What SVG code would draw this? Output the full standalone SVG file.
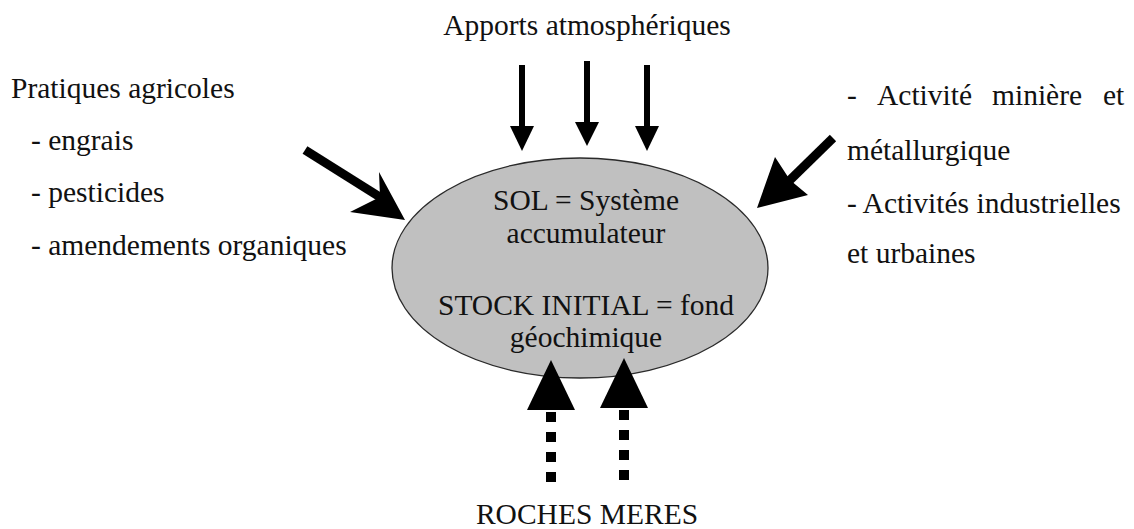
<svg xmlns="http://www.w3.org/2000/svg" width="1134" height="529" viewBox="0 0 1134 529">
<style>
  text { font-family: "Liberation Serif", Tinos, "DejaVu Serif", "Noto Serif", "Times New Roman", Times, serif; font-size: 29.5px; fill: #111; }
  .mid { text-anchor: middle; }
  .shaft { stroke: #000; stroke-width: 6; fill: none; }
  .thick { stroke: #000; stroke-width: 9; fill: none; }
  .dots { stroke: #000; stroke-width: 10; stroke-dasharray: 10 10; fill: none; }
  .head { fill: #000; stroke: none; }
</style>
<rect width="1134" height="529" fill="#fff"/>

<g id="sol">
  <ellipse cx="580" cy="268" rx="188" ry="110" fill="#c0c0c0" stroke="#2a2a2a" stroke-width="1.3"/>
  <text class="mid" x="586" y="210">SOL = Système</text>
  <text class="mid" x="586" y="243">accumulateur</text>
  <text class="mid" x="586" y="315">STOCK INITIAL = fond</text>
  <text class="mid" x="586" y="347">géochimique</text>
</g>

<g id="apports">
  <text class="mid" x="587" y="35">Apports atmosphériques</text>
</g>

<g id="pratiques">
  <text x="11" y="98">Pratiques agricoles</text>
  <text x="31" y="150">- engrais</text>
  <text x="31" y="202">- pesticides</text>
  <text x="31" y="255">- amendements organiques</text>
</g>

<g id="activites">
  <text y="105"><tspan x="847">-</tspan><tspan x="877">Activité</tspan><tspan x="992">minière</tspan><tspan x="1103">et</tspan></text>
  <text x="847" y="160">métallurgique</text>
  <text x="847" y="213">- Activités industrielles</text>
  <text x="847" y="263">et urbaines</text>
</g>

<g id="roches">
  <text class="mid" x="587" y="524">ROCHES MERES</text>
</g>

<g id="connectors">
  <!-- atmospheric arrows -->
  <line class="shaft" x1="522" y1="65" x2="522" y2="128"/>
  <polygon class="head" points="510,126 534,126 522,151"/>
  <line class="shaft" x1="587" y1="61" x2="587" y2="124"/>
  <polygon class="head" points="575,122 599,122 587,146"/>
  <line class="shaft" x1="647" y1="65" x2="647" y2="128"/>
  <polygon class="head" points="635,126 659,126 647,151"/>

  <!-- agricultural arrow -->
  <line class="thick" x1="305" y1="150" x2="383" y2="199"/>
  <polygon class="head" points="405,220 379,172 380,197 350,212"/>

  <!-- mining / industrial arrow -->
  <line class="thick" x1="833" y1="138" x2="788" y2="182"/>
  <polygon class="head" points="757,208 808,195 790,180 775,157"/>

  <!-- parent rock arrows -->
  <line class="dots" x1="551" y1="482" x2="551" y2="408"/>
  <polygon class="head" points="527,410 575,410 551,360"/>
  <line class="dots" x1="624" y1="480" x2="624" y2="406"/>
  <polygon class="head" points="600,408 648,408 624,358"/>
</g>
</svg>
